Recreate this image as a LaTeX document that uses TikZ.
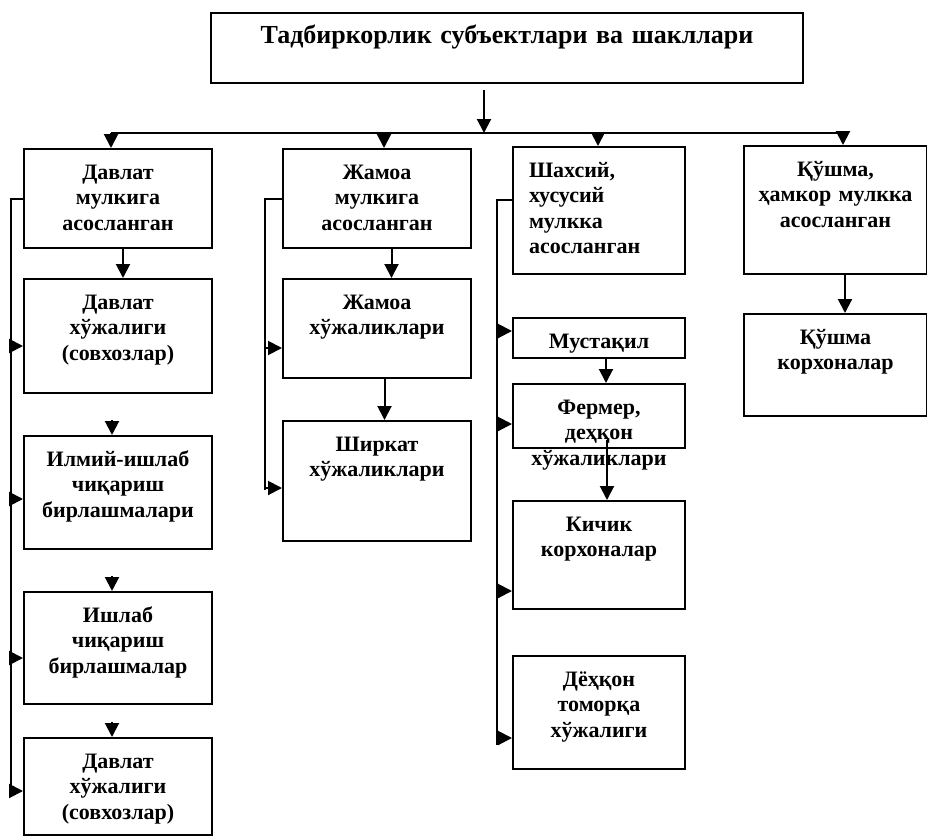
\documentclass[tikz,border=0pt]{standalone}
\usepackage{fontspec}
\setmainfont{Liberation Serif}
\usetikzlibrary{calc,arrows.meta}

\begin{document}
\begin{tikzpicture}[x=0.5pt,y=-0.5pt,
  box/.style={draw, line width=1pt, anchor=north west, inner xsep=0pt, inner ysep=0pt,
    align=center, text height=15pt, font=\bfseries\fontsize{11}{12.8}\selectfont},
  wone/.style={text width=94pt},
  wthree/.style={text width=86pt},
  wfour/.style={text width=91.5pt},
  line/.style={line width=1pt},
  arr/.style={line width=1pt, -{Triangle[length=7pt,width=7pt]}}]

\useasboundingbox (0,0) rectangle (927,836);

% Title box
\node[box, text width=296pt, text depth=20pt, font=\bfseries\fontsize{13}{15}\selectfont]
  (title) at (210,12) {Тадбиркорлик субъектлари ва шакллари};

% First column
\node[box, wone, text depth=34.5pt] (b1) at (23,148) {Давлат\\мулкига\\асосланган};
\node[box, wone, text depth=42pt] (b1a) at (23,278) {Давлат\\хўжалиги\\(совхозлар)};
\node[box, wone, text depth=41.5pt] (b1b) at (23,435) {Илмий-ишлаб\\чиқариш\\бирлашмалари};
\node[box, wone, text depth=41pt] (b1c) at (23,591) {Ишлаб\\чиқариш\\бирлашмалар};
\node[box, wone, text depth=33.5pt] (b1d) at (23,737) {Давлат\\хўжалиги\\(совхозлар)};

% Second column
\node[box, wone, text depth=34.5pt] (b2) at (282,148) {Жамоа\\мулкига\\асосланган};
\node[box, wone, text depth=34.5pt] (b2a) at (282,278) {Жамоа\\хўжаликлари};
\node[box, wone, text depth=45pt] (b2b) at (282,420) {Ширкат\\хўжаликлари};

% Third column
\node[box, align=left, inner xsep=8pt, text width=70pt, text depth=48.5pt]
  (b3) at (512,146) {Шахсий,\\хусусий\\мулкка\\асосланган};
\node[box, wthree, text depth=5pt] (b3a) at (512,317) {Мустақил};
\node[box, wthree, text depth=17pt] (b3b) at (512,383) {Фермер,\\деҳқон\\хўжаликлари};
\node[box, wthree, text depth=39pt] (b3c) at (512,500) {Кичик\\корхоналар};
\node[box, wthree, text depth=41.5pt] (b3d) at (512,655) {Дёҳқон\\томорқа\\хўжалиги};

% Fourth column
\node[box, wfour, text depth=49pt] (b4) at (743,145) {Қўшма,\\ҳамкор мулкка\\асосланган};
\node[box, wfour, text depth=36pt] (b4a) at (743,313) {Қўшма\\корхоналар};

% Top bus
\coordinate (hub) at (484,133);
\coordinate (t1) at (111,133);
\coordinate (t2) at (384,133);
\coordinate (t3) at (598,133);
\coordinate (t4) at (843,133);
\draw[arr] ($(title.south -| hub)+(0,6)$) -- (hub);
\draw[line] (t1) -- (t4);
\foreach \c/\b in {t1/b1, t2/b2, t3/b3, t4/b4}
  \draw[arr] (\c) -- (\c |- \b.north);

% Side buses
\coordinate (e1) at (11,797);
\coordinate (e2) at (265,490);
\coordinate (e3) at (497,745);
\draw[line] (b1.west) -| (e1);
\draw[line] (b2.west) -| (e2);
\draw[line] ($(b3.west)+(0,-11)$) -| (e3);

% Arrows from the side buses
\foreach \b/\d in {b1a/10, b1b/6.5, b1c/10, b1d/4.5}
  \draw[arr] ($(\b.west)+(-12,\d)$) -- ($(\b.west)+(0,\d)$);
\foreach \b/\d in {b2a/19.5, b2b/7}
  \draw[arr] ($(\b.west)+(-17,\d)$) -- ($(\b.west)+(0,\d)$);
\foreach \b/\d in {b3a/-7, b3b/8, b3c/36, b3d/25.5}
  \draw[arr] ($(\b.west)+(-15,\d)$) -- ($(\b.west)+(0,\d)$);

% Arrows inside the columns
\draw[arr] ($(b1.south)+(5,0)$) -- ($(b1a.north)+(5,0)$);
\foreach \b in {b1b, b1c, b1d}
  \draw[arr] ($(\b.north)+(-6,-15)$) -- ($(\b.north)+(-6,0)$);
\draw[arr] ($(b2.south)+(14.5,0)$) -- ($(b2a.north)+(14.5,0)$);
\draw[arr] ($(b2a.south)+(7.5,0)$) -- ($(b2b.north)+(7.5,0)$);
\draw[arr] ($(b3a.south)+(7,0)$) -- ($(b3b.north)+(7,0)$);
\draw[arr] ($(b3b.south)+(8,-9)$) -- ($(b3c.north)+(8,0)$);
\draw[arr] ($(b4.south)+(9.5,0)$) -- ($(b4a.north)+(9.5,0)$);

\end{tikzpicture}
\end{document}
